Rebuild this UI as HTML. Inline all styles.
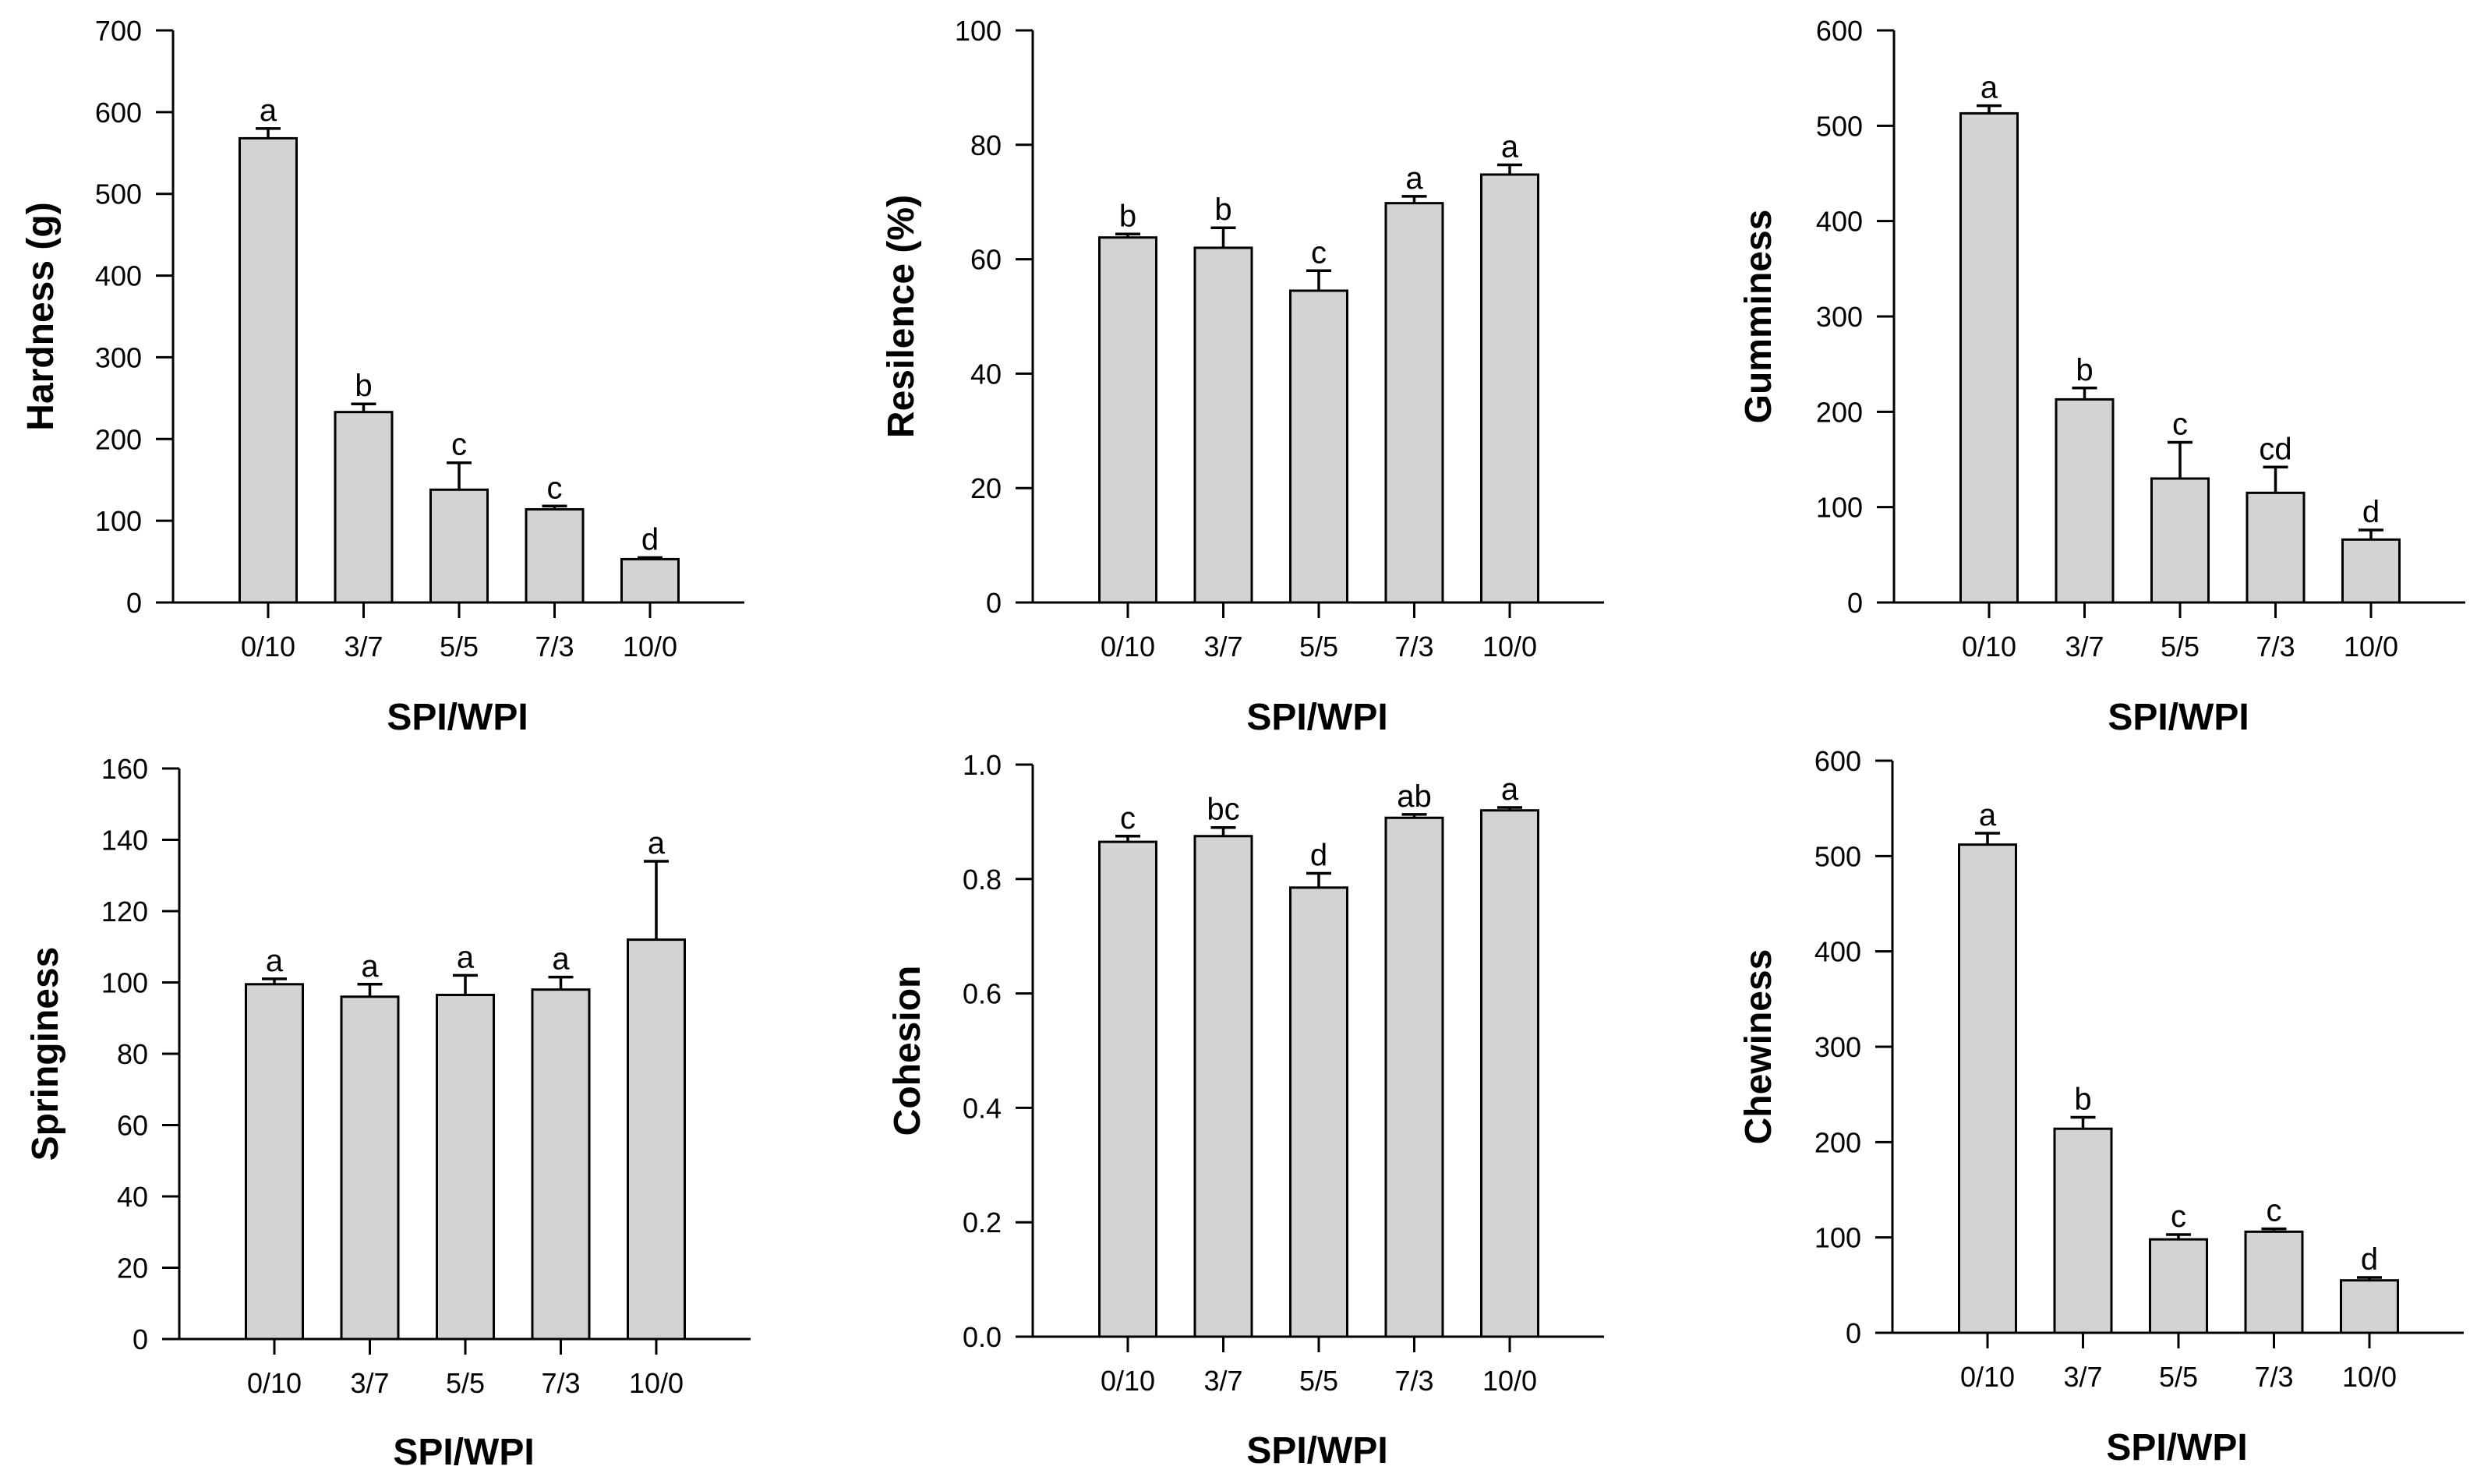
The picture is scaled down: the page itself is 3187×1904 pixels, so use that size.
<!DOCTYPE html>
<html><head><meta charset="utf-8"><style>
html,body{margin:0;padding:0;background:#fff;}
svg{display:block;font-family:"Liberation Sans",Arial,sans-serif;}
</style></head><body>
<svg id="fig" width="3187" height="1904" viewBox="0 0 3187 1904" xmlns="http://www.w3.org/2000/svg"></svg>
<script>
const categories = ["0/10","3/7","5/5","7/3","10/0"];
const hardnessValues = [568,233,138,114,53];
const hardnessErrors = [12,10,33,4,2];
const hardnessLetters = ["a","b","c","c","d"];
const hardnessTicks = [0,100,200,300,400,500,600,700];
const resilienceValues = [63.8,62,54.5,69.8,74.8];
const resilienceErrors = [0.6,3.5,3.5,1.2,1.7];
const resilienceLetters = ["b","b","c","a","a"];
const resilienceTicks = [0,20,40,60,80,100];
const gumminessValues = [513,213,130,115,66];
const gumminessErrors = [8,12,38,27,10];
const gumminessLetters = ["a","b","c","cd","d"];
const gumminessTicks = [0,100,200,300,400,500,600];
const springinessValues = [99.5,96,96.5,98,112];
const springinessErrors = [1.5,3.5,5.5,3.5,22];
const springinessLetters = ["a","a","a","a","a"];
const springinessTicks = [0,20,40,60,80,100,120,140,160];
const cohesionValues = [0.865,0.875,0.785,0.907,0.92];
const cohesionErrors = [0.01,0.015,0.025,0.006,0.005];
const cohesionLetters = ["c","bc","d","ab","a"];
const cohesionTicks = [0,0.2,0.4,0.6,0.8,1.0];
const cohesionTickLabels = ["0.0","0.2","0.4","0.6","0.8","1.0"];
const chewinessValues = [512,214,98,106,55];
const chewinessErrors = [12,12,5,3,3];
const chewinessLetters = ["a","b","c","c","d"];
const chewinessTicks = [0,100,200,300,400,500,600];

const NS="http://www.w3.org/2000/svg";
const svg=document.getElementById('fig');
function mk(tag,attrs,parent,text){const e=document.createElementNS(NS,tag);for(const k in attrs)e.setAttribute(k,attrs[k]);if(text!==undefined)e.textContent=text;(parent||svg).appendChild(e);return e;}

function panel(o){
  const g=mk('g',{});
  
  
  const max=o.ticks[o.ticks.length-1];
  const y=v=>o.y0-(v/max)*(o.y0-o.yTop);
  const x=i=>o.ax+122+i*122.5;
  o.values.forEach((v,i)=>{
    const cx=x(i);
    const b=mk('rect',{x:cx-36.5,y:y(v),width:73,height:o.y0-y(v),fill:'#d3d3d3',stroke:'#000','stroke-width':3},g);
    
    
    const top=y(v+o.errors[i]);
    const eb=mk('path',{d:`M${cx} ${y(v)} V${top} M${cx-16} ${top} H${cx+16}`,stroke:'#000','stroke-width':3.5,fill:'none'},g);
    
    
    const lt=mk('text',{x:cx,y:top-10,'font-size':40,'text-anchor':'middle'},g,o.letters[i]);
    
    
    mk('line',{x1:cx,y1:o.y0,x2:cx,y2:o.y0+20,stroke:'#000','stroke-width':3},g);
    const cl=mk('text',{x:cx,y:o.y0+69,'font-size':36,'text-anchor':'middle'},g,categories[i]);
    
    
  });
  const ya=mk('line',{x1:o.ax,y1:o.yTop,x2:o.ax,y2:o.y0,stroke:'#000','stroke-width':3},g);
  
  
  const xa=mk('line',{x1:o.ax-22,y1:o.y0,x2:o.ax+733,y2:o.y0,stroke:'#000','stroke-width':3},g);
  
  
  o.ticks.forEach((t,i)=>{
    mk('line',{x1:o.ax-22,y1:y(t),x2:o.ax,y2:y(t),stroke:'#000','stroke-width':3},g);
    const tl=mk('text',{x:o.ax-40,y:y(t)+13,'font-size':36,'text-anchor':'end'},g,o.tickLabels?o.tickLabels[i]:String(t));
    
    
  });
  const yt=mk('text',{x:0,y:0,'font-size':48,'font-weight':'bold','text-anchor':'middle',transform:`translate(${o.titleX},${(o.yTop+o.y0)/2+o.titleDy}) rotate(-90)`},g,o.title);
  
  
  const xt=mk('text',{x:o.ax+365,y:o.xTitleY,'font-size':48,'font-weight':'bold','text-anchor':'middle'},g,'SPI/WPI');
  
  
}
panel({name:'hardness',ax:222,yTop:39,y0:773,values:hardnessValues,errors:hardnessErrors,letters:hardnessLetters,ticks:hardnessTicks,title:'Hardness (g)',titleX:68,titleDy:0,xTitleY:936});
panel({name:'resilience',ax:1325,yTop:39,y0:773,values:resilienceValues,errors:resilienceErrors,letters:resilienceLetters,ticks:resilienceTicks,title:'Resilence (%)',titleX:1172,titleDy:0,xTitleY:936});
panel({name:'gumminess',ax:2430,yTop:39,y0:773,values:gumminessValues,errors:gumminessErrors,letters:gumminessLetters,ticks:gumminessTicks,title:'Gumminess',titleX:2272,titleDy:0,xTitleY:936});
panel({name:'springiness',ax:230,yTop:986,y0:1718,values:springinessValues,errors:springinessErrors,letters:springinessLetters,ticks:springinessTicks,title:'Springiness',titleX:74,titleDy:0,xTitleY:1879});
panel({name:'cohesion',ax:1325,yTop:981,y0:1715,values:cohesionValues,errors:cohesionErrors,letters:cohesionLetters,ticks:cohesionTicks,tickLabels:cohesionTickLabels,title:'Cohesion',titleX:1180,titleDy:0,xTitleY:1877});
panel({name:'chewiness',ax:2428,yTop:976,y0:1710,values:chewinessValues,errors:chewinessErrors,letters:chewinessLetters,ticks:chewinessTicks,title:'Chewiness',titleX:2272,titleDy:0,xTitleY:1873});
</script>
</body></html>
